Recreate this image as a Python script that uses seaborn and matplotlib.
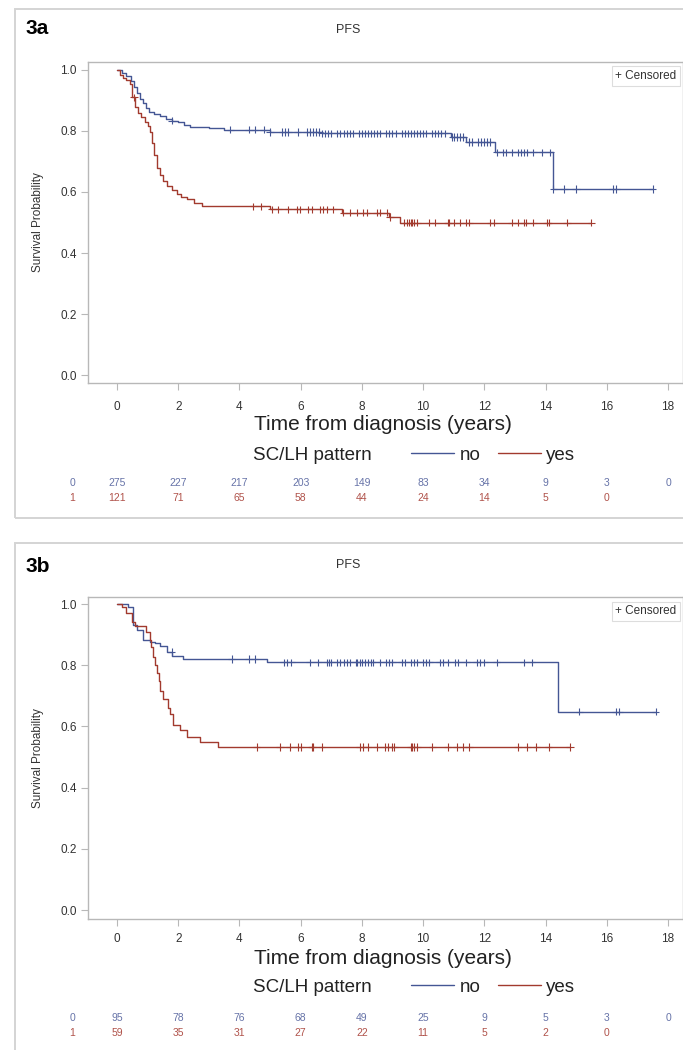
import numpy as np
import pandas as pd
import matplotlib
matplotlib.use("Agg")
import matplotlib.pyplot as plt
import matplotlib.transforms as mtransforms
from matplotlib.patches import Rectangle
from matplotlib.lines import Line2D
import seaborn as sns

sns.set_theme(style="white")
plt.rcParams['font.family'] = ['Liberation Sans', 'DejaVu Sans']

# ---------------- data ----------------
groups = ["no", "yes"]
x_ticks = [0, 2, 4, 6, 8, 10, 12, 14, 16, 18]
y_ticks = [0.0, 0.2, 0.4, 0.6, 0.8, 1.0]

# Panel 3a
a_no_t = [0, 0.15, 0.3, 0.45, 0.55, 0.65, 0.75, 0.85, 0.95, 1.05, 1.2, 1.4, 1.6, 1.8, 2.0, 2.2, 2.4,
          3.0, 3.5, 5.0, 6.7, 10.9, 11.4, 12.35, 14.25, 17.5]
a_no_s = [1.0, 0.99, 0.98, 0.965, 0.945, 0.925, 0.905, 0.89, 0.875, 0.862, 0.855, 0.848, 0.84, 0.834,
          0.828, 0.82, 0.813, 0.809, 0.804, 0.797, 0.792, 0.78, 0.764, 0.73, 0.61, 0.61]
a_yes_t = [0, 0.1, 0.2, 0.3, 0.42, 0.5, 0.6, 0.7, 0.8, 0.9, 1.0, 1.08, 1.14, 1.2, 1.3, 1.4, 1.5, 1.63,
           1.8, 1.96, 2.1, 2.29, 2.5, 2.78, 5.0, 7.35, 8.9, 9.25, 15.5]
a_yes_s = [1.0, 0.985, 0.975, 0.968, 0.955, 0.91, 0.88, 0.86, 0.845, 0.83, 0.815, 0.795, 0.76, 0.72,
           0.68, 0.655, 0.635, 0.62, 0.605, 0.592, 0.585, 0.577, 0.565, 0.553, 0.543, 0.532, 0.518,
           0.50, 0.50]
a_no_cens = [1.8, 3.7, 4.3, 4.5, 4.8, 5.0, 5.4, 5.5, 5.6, 5.9, 6.2, 6.3, 6.4, 6.5, 6.6, 6.7, 6.8, 6.9,
             7.0, 7.2, 7.3, 7.4, 7.5, 7.6, 7.7, 7.9, 8.0, 8.1, 8.2, 8.3, 8.4, 8.5, 8.6, 8.8, 8.9, 9.0,
             9.1, 9.3, 9.4, 9.5, 9.6, 9.7, 9.8, 9.9, 10.0, 10.1, 10.3, 10.4, 10.5, 10.6, 10.7, 10.95,
             11.0, 11.1, 11.2, 11.3, 11.5, 11.6, 11.8, 11.9, 12.0, 12.1, 12.2, 12.4, 12.6, 12.7, 12.9,
             13.1, 13.2, 13.3, 13.4, 13.6, 13.9, 14.15, 14.25, 14.6, 15.0, 16.2, 16.3, 17.5]
a_yes_cens = [0.55, 4.45, 4.7, 5.05, 5.27, 5.6, 5.87, 5.98, 6.25, 6.36, 6.63, 6.74, 6.85, 7.07, 7.39,
              7.61, 7.83, 8.05, 8.16, 8.49, 8.59, 8.81, 8.92, 9.36, 9.47, 9.55, 9.6, 9.65, 9.7, 9.8,
              10.2, 10.4, 10.8, 10.85, 11.0, 11.2, 11.4, 11.5, 12.2, 12.3, 12.9, 13.1, 13.3, 13.35,
              13.6, 14.05, 14.1, 14.7, 15.5]
a_risk_no = [275, 227, 217, 203, 149, 83, 34, 9, 3, 0]
a_risk_yes = [121, 71, 65, 58, 44, 24, 14, 5, 0]

# Panel 3b
b_no_t = [0, 0.35, 0.52, 0.65, 0.85, 1.08, 1.25, 1.4, 1.63, 1.8, 2.16, 4.9, 14.4, 17.6]
b_no_s = [1.0, 0.99, 0.93, 0.915, 0.882, 0.876, 0.872, 0.863, 0.843, 0.83, 0.82, 0.81, 0.648, 0.648]
b_yes_t = [0, 0.15, 0.3, 0.5, 0.6, 0.95, 1.08, 1.12, 1.18, 1.24, 1.3, 1.36, 1.42, 1.5, 1.67, 1.73,
           1.83, 2.06, 2.29, 2.7, 3.3, 14.8]
b_yes_s = [1.0, 0.99, 0.97, 0.94, 0.928, 0.91, 0.882, 0.86, 0.827, 0.8, 0.775, 0.75, 0.715, 0.69,
           0.66, 0.64, 0.605, 0.588, 0.566, 0.549, 0.533, 0.533]
b_no_cens = [1.79, 3.75, 4.3, 4.5, 5.45, 5.55, 5.7, 6.3, 6.57, 6.86, 6.94, 7.0, 7.2, 7.3, 7.4, 7.5,
             7.6, 7.8, 7.85, 7.95, 8.0, 8.1, 8.2, 8.3, 8.35, 8.6, 8.8, 8.9, 9.0, 9.3, 9.4, 9.6, 9.7,
             9.8, 10.0, 10.1, 10.2, 10.55, 10.65, 10.8, 11.05, 11.15, 11.4, 11.75, 11.85, 12.0,
             12.4, 13.3, 13.55, 15.1, 16.3, 16.4, 17.6]
b_yes_cens = [4.56, 5.33, 5.65, 5.9, 6.0, 6.36, 6.4, 6.69, 7.94, 8.05, 8.2, 8.49, 8.76, 8.86, 8.98,
              9.05, 9.6, 9.65, 9.7, 9.8, 10.3, 10.8, 11.1, 11.3, 11.5, 13.1, 13.4, 13.7, 14.1, 14.8]
b_risk_no = [95, 78, 76, 68, 49, 25, 9, 5, 3, 0]
b_risk_yes = [59, 35, 31, 27, 22, 11, 5, 2, 0]

# ---------------- styling ----------------
BLUE = "#445694"
RED = "#A23A2E"
BLUE_T = "#6673a8"
RED_T = "#b0524a"
SPINE = "#b8b8b8"
TXT = "#333333"
palette = {"no": BLUE, "yes": RED}

W, H = 683, 1050
fig = plt.figure(figsize=(W / 100, H / 100), dpi=100)
fig.patch.set_facecolor("white")


def fx(px):
    return px / W


def fy(py):
    return 1 - py / H


def step_value(t_arr, s_arr, tc):
    idx = np.searchsorted(np.asarray(t_arr), np.asarray(tc), side="right") - 1
    return np.asarray(s_arr)[np.clip(idx, 0, len(s_arr) - 1)]


def panel(frame_top, frame_bottom, ax_top, ax_bottom, label, label_y, pfs_y,
          xlab_y, leg_y, row0_y, row1_y, no_t, no_s, yes_t, yes_s, no_c, yes_c,
          r_no, r_yes, ylim, xpad):
    # panel frame
    fig.patches.append(Rectangle((fx(15), fy(frame_bottom)), fx(700) - fx(15),
                                 fy(frame_top) - fy(frame_bottom), transform=fig.transFigure,
                                 fill=False, edgecolor="#d4d4d4", linewidth=1.4))
    ax = fig.add_axes([fx(88), fy(ax_bottom), fx(683) - fx(88), fy(ax_top) - fy(ax_bottom)])

    curves = pd.DataFrame({
        "time": list(no_t) + list(yes_t),
        "surv": list(no_s) + list(yes_s),
        "group": ["no"] * len(no_t) + ["yes"] * len(yes_t),
    })
    sns.lineplot(data=curves, x="time", y="surv", hue="group", palette=palette,
                 estimator=None, sort=False, drawstyle="steps-post", linewidth=1.0,
                 legend=False, ax=ax)
    cens = pd.DataFrame({
        "time": list(no_c) + list(yes_c),
        "surv": list(step_value(no_t, no_s, no_c)) + list(step_value(yes_t, yes_s, yes_c)),
        "group": ["no"] * len(no_c) + ["yes"] * len(yes_c),
    })
    sns.scatterplot(data=cens, x="time", y="surv", hue="group", palette=palette, marker="+",
                    s=28, linewidth=0.8, legend=False, ax=ax)

    ax.set_xlim(-0.947, 18.49)
    ax.set_ylim(*ylim)
    ax.set_xticks(x_ticks)
    ax.set_yticks(y_ticks)
    ax.set_xticklabels([str(v) for v in x_ticks])
    ax.set_yticklabels([f"{v:.1f}" for v in y_ticks])
    ax.set_xlabel("")
    ax.set_ylabel("Survival Probability", fontsize=8.5, color=TXT, labelpad=12)
    for sp in ax.spines.values():
        sp.set_color(SPINE)
        sp.set_linewidth(1.0)
    ax.tick_params(axis="both", direction="out", length=5, width=0.8, color=SPINE,
                   labelsize=8.5, labelcolor=TXT, bottom=True, left=True)
    ax.tick_params(axis="x", pad=xpad)
    ax.tick_params(axis="y", pad=3)

    # censored box
    ax.text(0.989, 0.975, "+ Censored", transform=ax.transAxes, ha="right", va="top",
            fontsize=8.5, color=TXT,
            bbox=dict(boxstyle="square,pad=0.3", facecolor="white", edgecolor="#dddddd",
                      linewidth=0.8))

    # titles
    fig.text(fx(26), fy(label_y), label, fontsize=15, fontweight="bold", color="black",
             ha="left", va="center")
    fig.text(fx(348), fy(pfs_y), "PFS", fontsize=9, color=TXT, ha="center", va="center")
    fig.text(fx(383), fy(xlab_y), "Time from diagnosis (years)", fontsize=15, color="#222222",
             ha="center", va="center")

    # legend row
    fig.text(fx(372), fy(leg_y), "SC/LH pattern", fontsize=13.5, color="#222222",
             ha="right", va="center")
    leg_handles = [Line2D([0], [0], color=BLUE, lw=1.0), Line2D([0], [0], color=RED, lw=1.0)]
    fig.legend(leg_handles, groups, loc="center left", bbox_to_anchor=(fx(411), fy(leg_y)),
               ncol=2, frameon=False, fontsize=13.5, handlelength=2.3, handletextpad=0.3,
               columnspacing=0.9, labelcolor="#222222", borderaxespad=0, borderpad=0)

    # numbers at risk
    tr = mtransforms.blended_transform_factory(ax.transData, fig.transFigure)
    fig.text(fx(72), fy(row0_y), "0", fontsize=7.5, color=BLUE_T, ha="center", va="center")
    fig.text(fx(72), fy(row1_y), "1", fontsize=7.5, color=RED_T, ha="center", va="center")
    for xv, n in zip(x_ticks, r_no):
        ax.text(xv, fy(row0_y), str(n), transform=tr, fontsize=7.5, color=BLUE_T,
                ha="center", va="center")
    for xv, n in zip(x_ticks, r_yes):
        ax.text(xv, fy(row1_y), str(n), transform=tr, fontsize=7.5, color=RED_T,
                ha="center", va="center")
    return ax


panel(9, 518, 62, 383, "3a", 28, 30, 425, 455, 483, 498,
      a_no_t, a_no_s, a_yes_t, a_yes_s, a_no_cens, a_yes_cens, a_risk_no, a_risk_yes,
      (-0.026, 1.026), 8)
panel(543, 1060, 597, 919, "3b", 567, 565, 958, 987, 1018, 1033,
      b_no_t, b_no_s, b_yes_t, b_yes_s, b_no_cens, b_yes_cens, b_risk_no, b_risk_yes,
      (-0.029, 1.023), 5)

fig.savefig("out.png", dpi=100, facecolor="white")
